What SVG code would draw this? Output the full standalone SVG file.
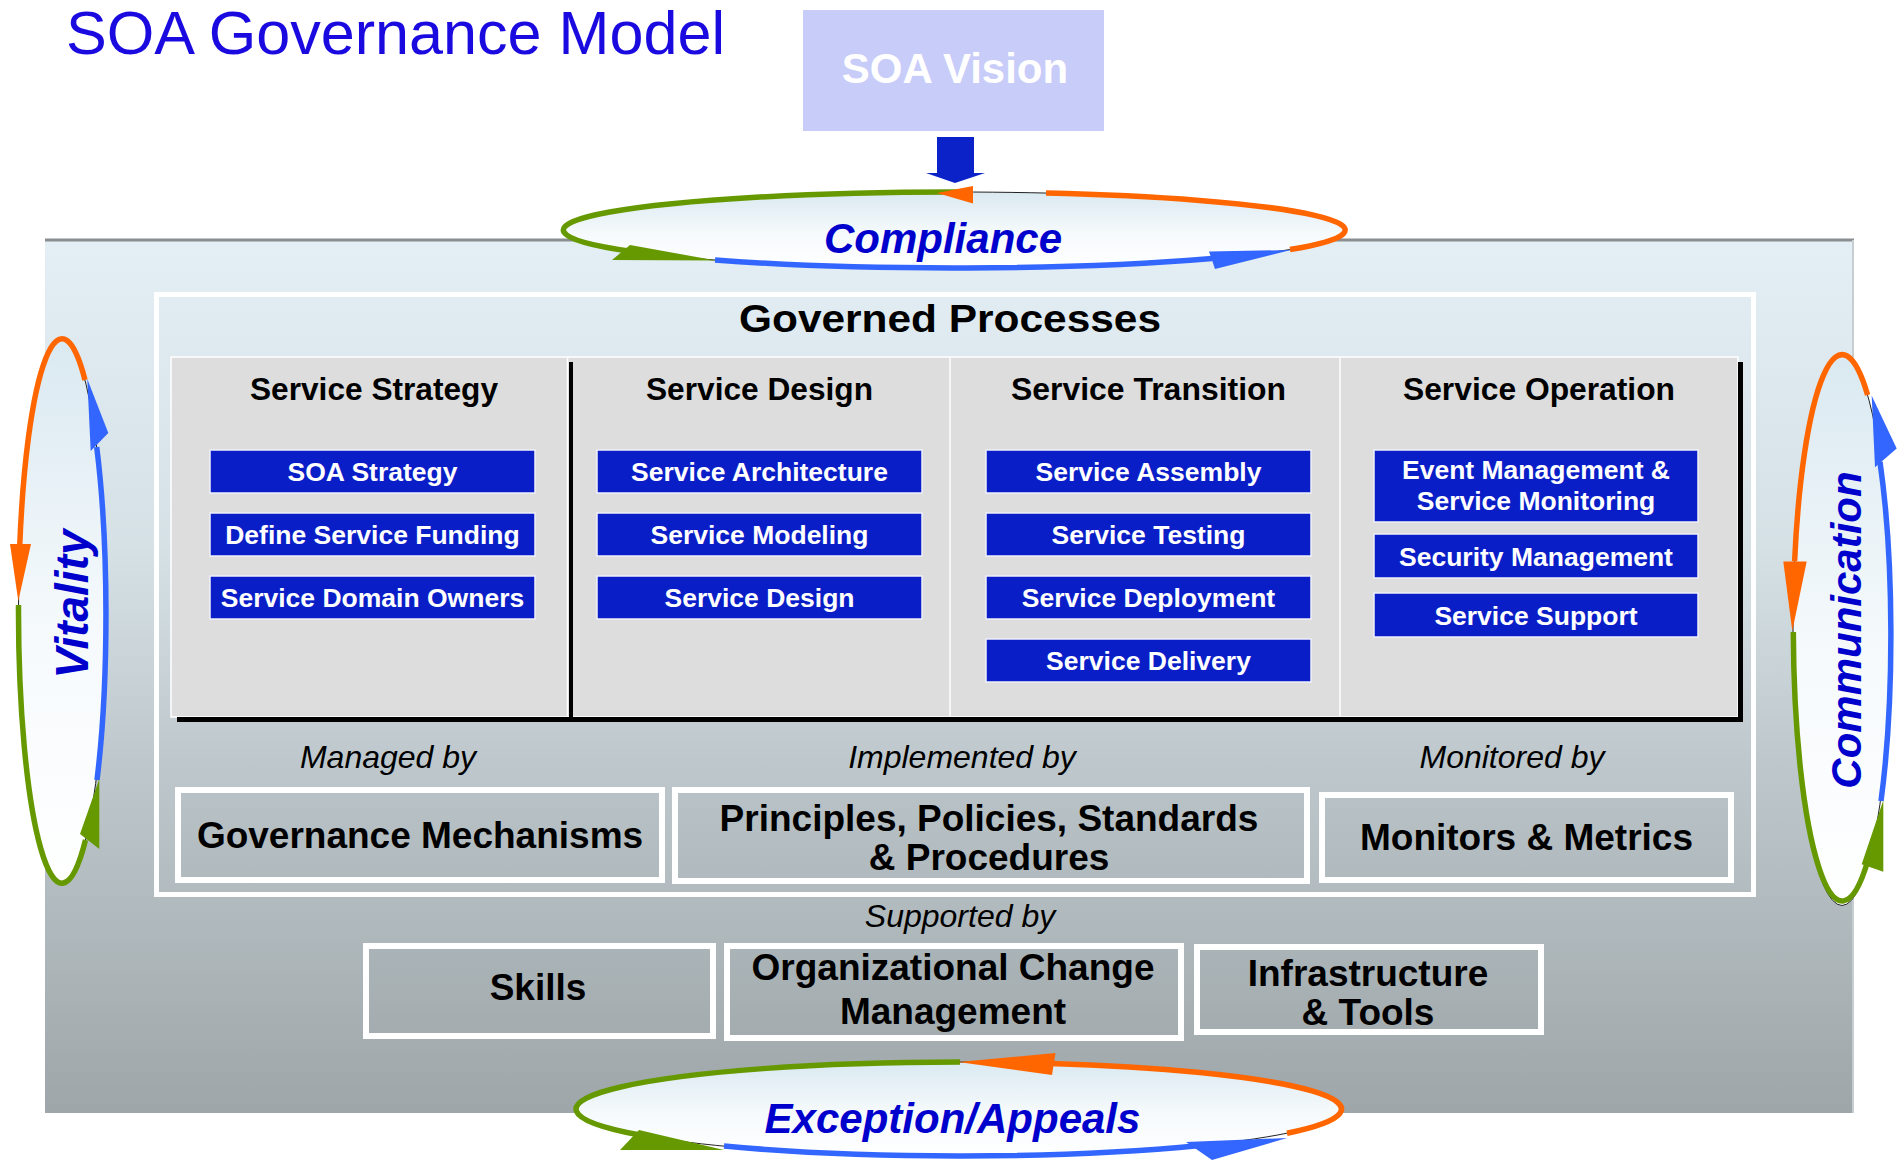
<svg xmlns="http://www.w3.org/2000/svg" width="1900" height="1161" viewBox="0 0 1900 1161">
<defs>
<linearGradient id="panelGrad" x1="0" y1="0" x2="0" y2="1">
<stop offset="0" stop-color="#E3EFF5"/>
<stop offset="0.35" stop-color="#D6E1E6"/>
<stop offset="0.6" stop-color="#BEC8CC"/>
<stop offset="1" stop-color="#9EA6A9"/>
</linearGradient>
<linearGradient id="ovalGrad" x1="0" y1="0" x2="0" y2="1">
<stop offset="0" stop-color="#DAE9F1"/>
<stop offset="0.55" stop-color="#F6FAFC"/>
<stop offset="1" stop-color="#FFFFFF"/>
</linearGradient>
<style>
.sans{font-family:"Liberation Sans",Arial,sans-serif}
.bold{font-family:"Liberation Sans",Arial,sans-serif;font-weight:bold}
.bi{font-family:"Liberation Sans",Arial,sans-serif;font-weight:bold;font-style:italic;fill:#0000CC}
.it{font-family:"Liberation Sans",Arial,sans-serif;font-style:italic;font-size:32px;fill:#000}
.hdr{font-family:"Liberation Sans",Arial,sans-serif;font-weight:bold;font-size:31px;fill:#000}
.blu{fill:#0A1EC8;stroke:#F0F0FA;stroke-width:1.5}
.btx{font-family:"Liberation Sans",Arial,sans-serif;font-weight:bold;font-size:26.5px;fill:#FFFFFF}
.frame{fill:#8C969A;fill-opacity:0.06;stroke:#FFFFFF;stroke-width:6}
.big{font-family:"Liberation Sans",Arial,sans-serif;font-weight:bold;font-size:37px;fill:#000}
.oval{fill:url(#ovalGrad);stroke:#222;stroke-width:1}
.arc{fill:none;stroke-width:5.5}
.og{stroke:#FF6600}.gr{stroke:#669900}.bl{stroke:#3366FF}
.fog{fill:#FF6600}.fgr{fill:#669900}.fbl{fill:#3366FF}
</style>
</defs>
<rect x="0" y="0" width="1900" height="1161" fill="#FFFFFF"/>

<g id="title">
<text class="sans" x="66" y="54" font-size="61" fill="#1A0AE0" textLength="659" lengthAdjust="spacingAndGlyphs">SOA Governance Model</text>
</g>

<g id="soa-vision">
<rect x="803" y="10" width="301" height="121" fill="#C8CCF8"/>
<text class="bold" x="955" y="83" font-size="42" fill="#FFFFFF" text-anchor="middle">SOA Vision</text>
</g>

<g id="governance-panel">
<rect x="45" y="239" width="1809" height="874" fill="url(#panelGrad)"/>
<line x1="45" y1="240" x2="1854" y2="240" stroke="#8A8E90" stroke-width="3"/>
<line x1="1853" y1="240" x2="1853" y2="1113" stroke="#C6CED2" stroke-width="2"/>
</g>

<g id="governed-processes">
<rect x="156.5" y="294.5" width="1597" height="600" fill="none" stroke="#FFFFFF" stroke-width="5"/>
<text class="bold" x="950" y="332" font-size="39" fill="#000" text-anchor="middle" textLength="422" lengthAdjust="spacingAndGlyphs">Governed Processes</text>
<rect x="171" y="357" width="1567" height="360" fill="#DDDDDD" stroke="#FFFFFF" stroke-width="1.5"/>
<path d="M177 719.5 H1740.5 V362" fill="none" stroke="#000" stroke-width="5"/>
<line x1="567.5" y1="358" x2="567.5" y2="717" stroke="#FFFFFF" stroke-width="1.5"/>
<line x1="571" y1="362" x2="571" y2="718" stroke="#000" stroke-width="4"/>
<line x1="950" y1="358" x2="950" y2="717" stroke="#F6F6F6" stroke-width="2"/>
<line x1="1340" y1="358" x2="1340" y2="717" stroke="#F6F6F6" stroke-width="2"/>
</g>

<g id="service-strategy">
<text class="hdr" x="374" y="400" text-anchor="middle" textLength="248" lengthAdjust="spacingAndGlyphs">Service Strategy</text>
<rect class="blu" x="210" y="450" width="325" height="43"/>
<text class="btx" x="372.5" y="481" text-anchor="middle">SOA Strategy</text>
<rect class="blu" x="210" y="513" width="325" height="43"/>
<text class="btx" x="372.5" y="544" text-anchor="middle">Define Service Funding</text>
<rect class="blu" x="210" y="576" width="325" height="43"/>
<text class="btx" x="372.5" y="607" text-anchor="middle">Service Domain Owners</text>
</g>

<g id="service-design">
<text class="hdr" x="759.5" y="400" text-anchor="middle" textLength="227" lengthAdjust="spacingAndGlyphs">Service Design</text>
<rect class="blu" x="597" y="450" width="325" height="43"/>
<text class="btx" x="759.5" y="481" text-anchor="middle">Service Architecture</text>
<rect class="blu" x="597" y="513" width="325" height="43"/>
<text class="btx" x="759.5" y="544" text-anchor="middle">Service Modeling</text>
<rect class="blu" x="597" y="576" width="325" height="43"/>
<text class="btx" x="759.5" y="607" text-anchor="middle">Service Design</text>
</g>

<g id="service-transition">
<text class="hdr" x="1148.5" y="400" text-anchor="middle" textLength="275" lengthAdjust="spacingAndGlyphs">Service Transition</text>
<rect class="blu" x="986" y="450" width="325" height="43"/>
<text class="btx" x="1148.5" y="481" text-anchor="middle">Service Assembly</text>
<rect class="blu" x="986" y="513" width="325" height="43"/>
<text class="btx" x="1148.5" y="544" text-anchor="middle">Service Testing</text>
<rect class="blu" x="986" y="576" width="325" height="43"/>
<text class="btx" x="1148.5" y="607" text-anchor="middle">Service Deployment</text>
<rect class="blu" x="986" y="639" width="325" height="43"/>
<text class="btx" x="1148.5" y="670" text-anchor="middle">Service Delivery</text>
</g>

<g id="service-operation">
<text class="hdr" x="1539" y="400" text-anchor="middle" textLength="272" lengthAdjust="spacingAndGlyphs">Service Operation</text>
<rect class="blu" x="1374" y="450" width="324" height="72"/>
<text class="btx" x="1536" y="479" text-anchor="middle">Event Management &amp;</text>
<text class="btx" x="1536" y="510" text-anchor="middle">Service Monitoring</text>
<rect class="blu" x="1374" y="534" width="324" height="44"/>
<text class="btx" x="1536" y="566" text-anchor="middle">Security Management</text>
<rect class="blu" x="1374" y="593" width="324" height="44"/>
<text class="btx" x="1536" y="625" text-anchor="middle">Service Support</text>
</g>

<g id="governance-mechanisms">
<text class="it" x="388" y="768" text-anchor="middle">Managed by</text>
<rect class="frame" x="178" y="790" width="484" height="90"/>
<text class="big" x="420" y="848" text-anchor="middle">Governance Mechanisms</text>
</g>

<g id="principles-policies">
<text class="it" x="962" y="768" text-anchor="middle">Implemented by</text>
<rect class="frame" x="675" y="790" width="632" height="91"/>
<text class="big" x="989" y="831" text-anchor="middle">Principles, Policies, Standards</text>
<text class="big" x="989" y="870" text-anchor="middle">&amp; Procedures</text>
</g>

<g id="monitors-metrics">
<text class="it" x="1512" y="768" text-anchor="middle">Monitored by</text>
<rect class="frame" x="1322" y="795" width="409" height="85"/>
<text class="big" x="1526.5" y="850" text-anchor="middle">Monitors &amp; Metrics</text>
</g>

<g id="supported-by">
<text class="it" x="960" y="927" text-anchor="middle">Supported by</text>
</g>

<g id="skills">
<rect class="frame" x="366" y="946" width="347" height="90"/>
<text class="big" x="538" y="1000" text-anchor="middle">Skills</text>
</g>

<g id="org-change">
<rect class="frame" x="727" y="946" width="454" height="92"/>
<text class="big" x="953" y="980" text-anchor="middle">Organizational Change</text>
<text class="big" x="953" y="1024" text-anchor="middle">Management</text>
</g>

<g id="infrastructure">
<rect class="frame" x="1197" y="947" width="344" height="85"/>
<text class="big" x="1368" y="986" text-anchor="middle">Infrastructure</text>
<text class="big" x="1368" y="1025" text-anchor="middle">&amp; Tools</text>
</g>

<g id="compliance">
<ellipse class="oval" cx="954.5" cy="230" rx="391" ry="38"/>
<text class="bi" x="943" y="253" font-size="42" text-anchor="middle">Compliance</text>
</g>

<g id="exception-appeals">
<ellipse class="oval" cx="958.6" cy="1109" rx="383" ry="47"/>
<text class="bi" x="952.5" y="1133" font-size="42" text-anchor="middle">Exception/Appeals</text>
</g>

<g id="vitality">
<ellipse class="oval" cx="62" cy="611" rx="43.5" ry="272"/>
<text class="bi" font-size="46" text-anchor="middle" transform="translate(88,604) rotate(-90)">Vitality</text>
</g>

<g id="communication">
<ellipse class="oval" cx="1842" cy="630" rx="49" ry="275.5"/>
<text class="bi" font-size="42" text-anchor="middle" transform="translate(1861,630) rotate(-90)">Communication</text>
</g>

<g id="connectors">
<polygon points="937,137 974,137 974,173 985,173 955,183 926,173 937,173" fill="#0A22C8"/>

<path class="arc og" d="M1290 249.5 A391 38 0 0 0 1046 193.1"/>
<path class="arc gr" d="M960 192 A391 38 0 0 0 632 251.5"/>
<path class="arc bl" d="M715 260 A391 38 0 0 0 1212 258.6"/>
<polygon class="fog" points="937,193 973,186 973,203.5"/>
<polygon class="fgr" points="612,260 630,245 716,260.5"/>
<polygon class="fbl" points="1209,251.5 1215,269 1291,250"/>

<path class="arc og" d="M1050 1063.4 A383 47 0 0 1 1287 1133.2"/>
<path class="arc gr" d="M960 1062 A383 47 0 0 0 640 1135"/>
<path class="arc bl" d="M724 1146 A383 47 0 0 0 1200 1145.5"/>
<polygon class="fog" points="958,1062 1055.5,1053 1052,1075"/>
<polygon class="fgr" points="620,1150 639,1130 724,1150"/>
<polygon class="fbl" points="1186,1142 1212,1160 1287,1138"/>

<path class="arc og" d="M85 380 A43.5 272 0 0 0 19.8 544"/>
<path class="arc gr" d="M18.5 605 A43.5 272 0 0 0 85.5 840"/>
<path class="arc bl" d="M97 780 A43.5 272 0 0 0 96.7 447"/>
<polygon class="fog" points="10,544 31,544 18.3,601"/>
<polygon class="fgr" points="99.3,779 80,834 99.3,849"/>
<polygon class="fbl" points="87.3,379 108.3,433 90.7,451"/>

<path class="arc og" d="M1867.6 395 A49 275.5 0 0 0 1794.6 561.4"/>
<path class="arc gr" d="M1793.3 632 A49 275.5 0 0 0 1868 860"/>
<path class="arc bl" d="M1881 801 A49 275.5 0 0 0 1880 462"/>
<polygon class="fog" points="1783.3,561.4 1806.7,561.4 1792.3,631"/>
<polygon class="fgr" points="1883.3,800.3 1861.7,864.2 1883.3,871.8"/>
<polygon class="fbl" points="1871.7,395.8 1896.7,448.5 1875,467.3"/>
</g>
</svg>
